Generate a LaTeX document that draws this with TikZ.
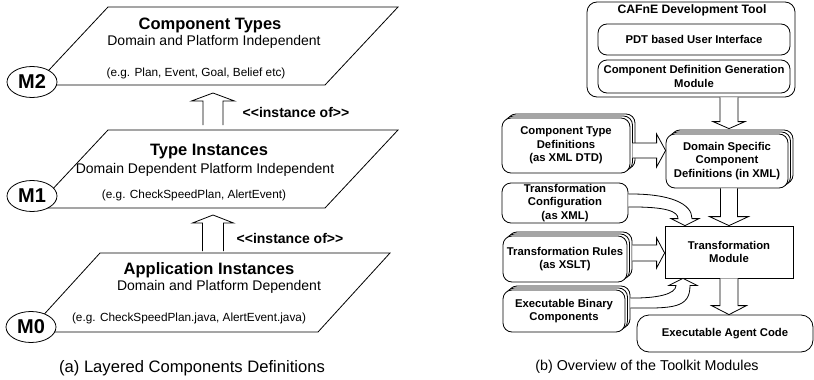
\documentclass[tikz,border=0pt]{standalone}
\usepackage{fontspec}
\setmainfont{Liberation Sans}
\usetikzlibrary{calc, shadows, shapes.geometric}
\tikzset{
    % Left panel styles
    layer/.style={draw, line join=miter},
    leveltag/.style={ellipse, draw, fill=white, minimum width=50pt, minimum height=31pt, inner sep=0pt, font=\fontsize{20}{22}\selectfont\bfseries},
    layertitle/.style={inner sep=0pt, font=\fontsize{16.5}{19}\selectfont\bfseries},
    layersub/.style={inner sep=0pt, font=\fontsize{14}{16}\selectfont},
    layerex/.style={inner sep=0pt, font=\fontsize{11.8}{14}\selectfont},
    instlabel/.style={inner sep=0pt, font=\fontsize{14}{16}\selectfont\bfseries},
    caption/.style={inner sep=0pt, font=\fontsize{16.6}{19}\selectfont},
    % Right panel styles
    modbox/.style={draw, fill=white, rounded corners=9pt, align=center, inner sep=0pt, font=\fontsize{11.3}{13.5}\selectfont\bfseries},
    stackbox/.style={modbox, double copy shadow={shadow xshift=2.5pt, shadow yshift=2pt}},
    plainbox/.style={draw, fill=white, align=center, inner sep=0pt, font=\fontsize{11.3}{13.5}\selectfont\bfseries},
    toolbox/.style={draw, rounded corners=10pt, inner sep=0pt},
    tooltitle/.style={inner sep=0pt, font=\fontsize{12.2}{14}\selectfont\bfseries},
    % Flow styles
    blockarrow/.style={draw, fill=white, line join=miter}
}
% hollow block arrow: start, tip, shaft half width, head half width, head length
\newcommand{\hollowarrow}[5]{%
    \coordinate (hb) at ($(#2)!#5!(#1)$);
    \draw[blockarrow] ($(#1)!#3!90:(#2)$) -- ($(hb)!#3!90:(#2)$) -- ($(hb)!#4!90:(#2)$) -- (#2)
        -- ($(hb)!#4!-90:(#2)$) -- ($(hb)!#3!-90:(#2)$) -- ($(#1)!#3!-90:(#2)$);
}
\begin{document}
\begin{tikzpicture}[x=1pt, y=-1pt, line width=0.8pt]
    \useasboundingbox (0,0) rectangle (814,380);

    % (a) Layered components definitions
    % Layer M2: component types
    \draw[layer] (108,7) -- (398,7) -- (325,85) -- (35,85) -- cycle;
    \coordinate (m2base) at (213,85);
    \node[leveltag] (m2) at (32,82) {M2};
    \node[layertitle] (m2title) at (210,25) {Component Types};
    \node[layersub] (m2sub) at (214,42) {Domain and Platform Independent};
    \node[layerex] (m2ex) at (196,73) {(e.g. Plan, Event, Goal, Belief etc)};

    % Layer M1: type instances
    \draw[layer] (108,130) -- (398,130) -- (325,208) -- (35,208) -- cycle;
    \coordinate (m1top) at (213,130);
    \coordinate (m1base) at (213,208);
    \node[leveltag] (m1) at (32,196) {M1};
    \node[layertitle] (m1title) at (209,152) {Type Instances};
    \node[layersub] (m1sub) at (205,170) {Domain Dependent Platform Independent};
    \node[layerex] (m1ex) at (194,195) {(e.g. CheckSpeedPlan, AlertEvent)};

    % Layer M0: application instances
    \draw[layer] (100,253) -- (390,253) -- (318,332) -- (28,332) -- cycle;
    \coordinate (m0top) at (213,253);
    \node[leveltag] (m0) at (31,327) {M0};
    \node[layertitle] (m0title) at (209,270) {Application Instances};
    \node[layersub] (m0sub) at (219,287) {Domain and Platform Dependent};
    \node[layerex] (m0ex) at (189,318) {(e.g. CheckSpeedPlan.java, AlertEvent.java)};

    % instance-of arrows
    \coordinate (up1s) at ($(m1top)+(0,-5)$);
    \coordinate (up1e) at ($(m2base)+(0,8)$);
    \hollowarrow{up1s}{up1e}{10pt}{21.5pt}{8pt}
    \node[instlabel] (inst1) at (296,112) {{<}{<}instance of{>}{>}};
    \coordinate (up2s) at ($(m0top)+(0,-2)$);
    \coordinate (up2e) at ($(m1base)+(0,7)$);
    \hollowarrow{up2s}{up2e}{10.5pt}{20.5pt}{8pt}
    \node[instlabel] (inst2) at (290,238) {{<}{<}instance of{>}{>}};

    \node[caption] (capa) at (192,368) {(a) Layered Components Definitions};

    % (b) Overview of the toolkit modules
    % CAFnE development tool
    \node[toolbox, minimum width=208pt, minimum height=95pt] (cafne) at (691,49.5) {};
    \node[tooltitle] (cafnetitle) at (692,10) {CAFnE Development Tool};
    \node[modbox, minimum width=192pt, minimum height=31pt] (pdt) at (694,39.5) {PDT based User Interface};
    \node[modbox, minimum width=192pt, minimum height=33pt] (cdg) at (694,76.5) {Component Definition Generation\\Module};

    % inputs and definitions
    \node[stackbox, minimum width=128pt, minimum height=55pt] (ctd) at (566,145.5) {Component Type\\Definitions\\(as XML DTD)};
    \node[stackbox, minimum width=122pt, minimum height=54pt] (dsc) at (727,161) {Domain Specific\\Component\\Definitions (in XML)};
    \node[modbox, minimum width=126pt, minimum height=40pt] (tcfg) at (565,203) {Transformation\\Configuration\\(as XML)};
    \node[plainbox, minimum width=128pt, minimum height=52pt] (tmod) at (729,252) {Transformation\\Module};
    \node[stackbox, minimum width=124pt, minimum height=46pt] (trules) at (565,259) {Transformation Rules\\(as XSLT)};
    \node[stackbox, minimum width=122pt, minimum height=42pt] (ebin) at (564,311) {Executable Binary\\Components};
    \node[modbox, rounded corners=12pt, minimum width=176pt, minimum height=37pt] (eac) at (725,333.5) {Executable Agent Code};

    % straight block arrows
    \coordinate (a1s) at (cafne.south -| 729,0);
    \coordinate (a1e) at ($(dsc.north -| 729,0)+(0,-5)$);
    \hollowarrow{a1s}{a1e}{9pt}{16pt}{7pt}
    \coordinate (a2s) at ($(ctd.east)+(2,5)$);
    \coordinate (a2e) at (a2s -| dsc.west);
    \hollowarrow{a2s}{a2e}{7.5pt}{16.5pt}{9pt}
    \coordinate (a3s) at (tmod.north |- dsc.south);
    \hollowarrow{a3s}{tmod.north}{8.5pt}{19.5pt}{9pt}
    \coordinate (a4s) at ($(trules.east)+(5,-6)$);
    \coordinate (a4e) at (a4s -| tmod.west);
    \hollowarrow{a4s}{a4e}{8pt}{15pt}{8pt}
    \coordinate (a5e) at (tmod.south |- eac.north);
    \hollowarrow{tmod.south}{a5e}{9pt}{17.5pt}{9pt}

    % curved block arrows into the transformation module
    \coordinate (c1o) at ($(tcfg.east)+(0,-9)$);
    \coordinate (c1i) at ($(tcfg.east)+(0,4)$);
    \coordinate (c1t) at ($(tmod.north)+(-44,0)$);
    \draw[blockarrow] (c1o) .. controls ($(c1t)+(-15,-32)$) and ($(c1t)+(7,-22)$) .. ($(c1t)+(7,-7)$)
        -- ($(c1t)+(14,-7)$) -- (c1t) -- ($(c1t)+(-14,-7)$) -- ($(c1t)+(-7,-7)$)
        .. controls ($(c1t)+(-7,-14)$) and ($(c1t)+(-18,-19)$) .. (c1i);
    \coordinate (c2i) at ($(ebin.east)+(5,-13)$);
    \coordinate (c2o) at ($(ebin.east)+(5,-3)$);
    \coordinate (c2t) at ($(tmod.south)+(-46,0)$);
    \draw[blockarrow] (c2i) .. controls ($(c2t)+(-27,20)$) and ($(c2t)+(-7,16)$) .. ($(c2t)+(-7,7)$)
        -- ($(c2t)+(-14,7)$) -- (c2t) -- ($(c2t)+(14,7)$) -- ($(c2t)+(7,7)$)
        .. controls ($(c2t)+(7,30)$) and ($(c2t)+(-10,30)$) .. (c2o);

    \node[caption, font=\fontsize{14.3}{17}\selectfont] (capb) at (647,367) {(b) Overview of the Toolkit Modules};
\end{tikzpicture}
\end{document}
